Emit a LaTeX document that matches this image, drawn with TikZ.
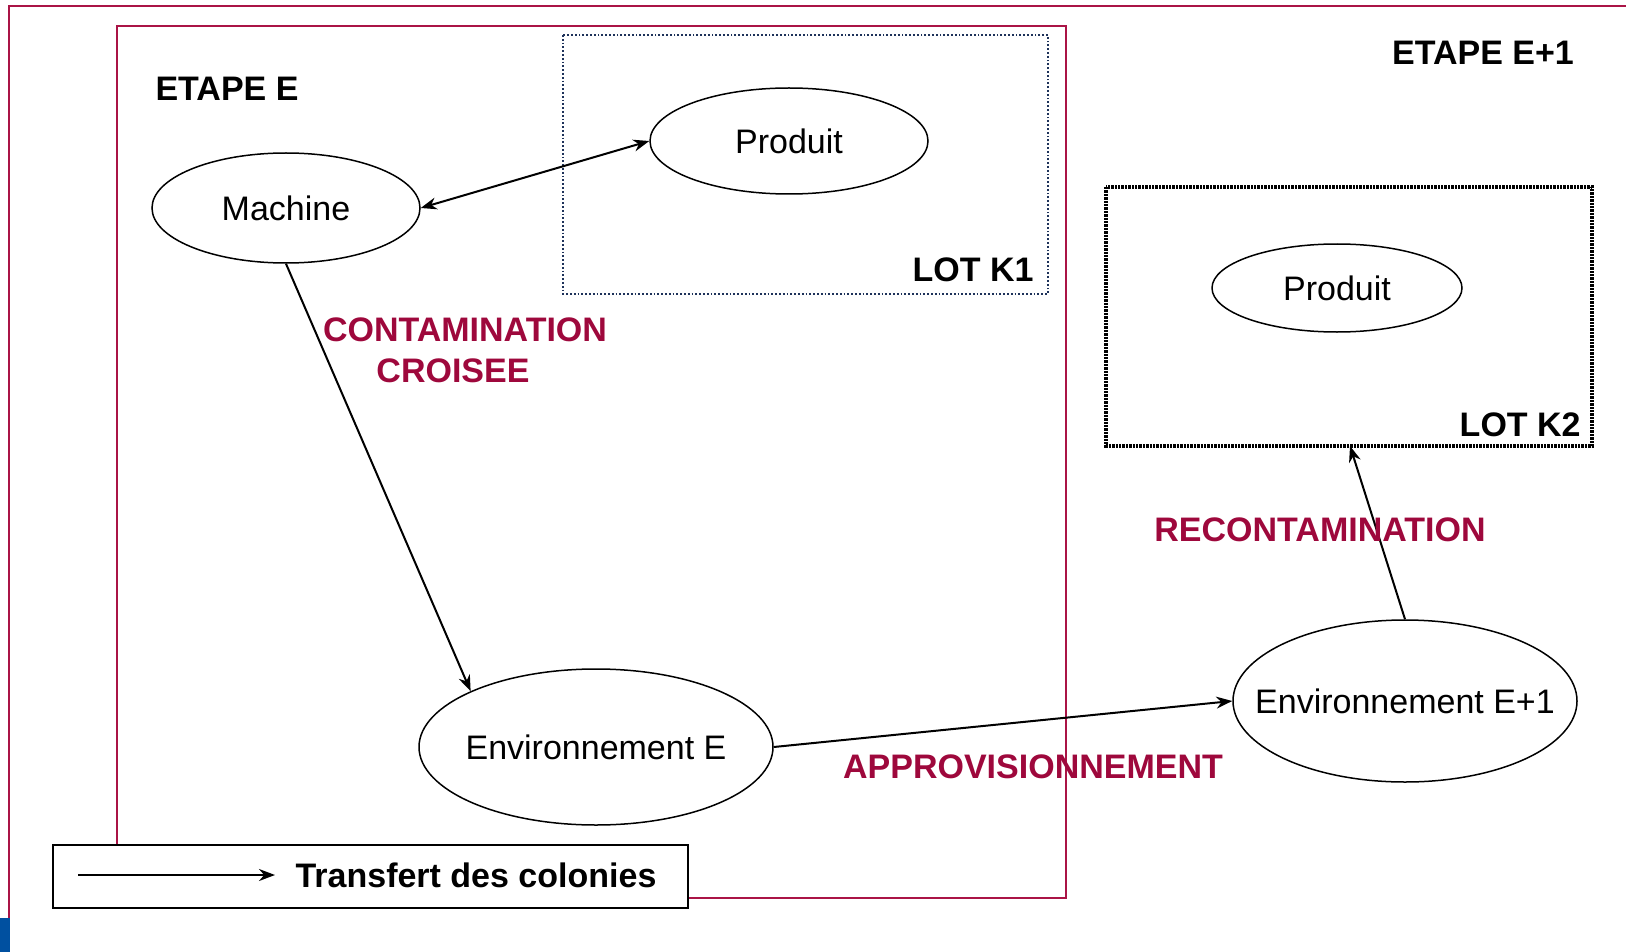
\documentclass[tikz,border=0pt]{standalone}
\usepackage{fontspec}
\setmainfont{Liberation Sans}
\usetikzlibrary{shapes.geometric,arrows.meta,calc}
\definecolor{framered}{RGB}{170,20,70}
\definecolor{labelred}{RGB}{158,8,60}
\definecolor{lotblue}{RGB}{30,50,90}
\definecolor{cornerblue}{RGB}{0,80,160}
\newcommand{\zbox}[1]{\makebox[0pt]{#1}}
\tikzset{
  txt/.style={font=\fontsize{17}{20}\selectfont, inner sep=0pt},
  btxt/.style={font=\fontsize{17}{20}\selectfont\bfseries, inner sep=0pt},
  rtxt/.style={btxt, text=labelred},
  oval/.style={draw, ellipse, line width=0.75pt, inner sep=0pt, txt},
  conn/.style={line width=1pt, -{Stealth[length=8pt,width=6pt]}},
  frame/.style={draw=framered, line width=1pt},
}
\begin{document}
\begin{tikzpicture}[x=0.5pt,y=-0.5pt]
\useasboundingbox (0,0) rectangle (1626,952);
% outer frame
\draw[frame] (9,952) -- (9,6) -- (1626,6);
\fill[cornerblue] (0,918) rectangle (10,952);
% inner frame
\draw[frame] (117,26) rectangle (1066,898);
% lots
\draw[lotblue, line width=0.9pt, densely dotted] (563,35) rectangle (1048,294);
\draw[black, line width=1.8pt, dash pattern=on 1.2pt off 0.5pt] (1106,187) rectangle (1592,446);
\node[btxt, anchor=east] (k1lab) at (1034,270) {LOT K1};
\node[btxt, anchor=east] (k2lab) at (1581,425) {LOT K2};
\coordinate (k2end) at (1350,446);
% titles
\node[btxt] (etE) at (227,89) {ETAPE E};
\node[btxt] (etE1) at (1483,53) {ETAPE E+1};
% ellipses
\node[oval, minimum width=134pt, minimum height=55pt] (mach) at (286,208) {\zbox{Machine}};
\node[oval, minimum width=139pt, minimum height=53pt] (prod1) at (789,141) {\zbox{Produit}};
\node[oval, minimum width=125pt, minimum height=44pt] (prod2) at (1337,288) {\zbox{Produit}};
\node[oval, minimum width=177pt, minimum height=78pt] (envE) at (596,747) {\zbox{Environnement E}};
\node[oval, minimum width=172pt, minimum height=81pt] (envE1) at (1405,701) {\zbox{Environnement E+1}};
% connectors
\draw[line width=1pt, {Stealth[length=8pt,width=6pt]}-{Stealth[length=8pt,width=6pt]}] (mach.east) -- (prod1.west);
\draw[conn] (mach.south) -- (envE.156);
\draw[conn] (envE.east) -- (envE1.west);
\draw[conn] (envE1.north) -- (k2end);
% labels
\node[rtxt] (cont) at (465,330) {CONTAMINATION};
\node[rtxt] (crois) at (453,371) {CROISEE};
\node[rtxt] (recont) at (1320,530) {RECONTAMINATION};
\node[rtxt] (appro) at (1033,767) {APPROVISIONNEMENT};
% legend
\draw[fill=white, line width=1pt] (53,845) rectangle (688,908);
\coordinate (lga) at (78,875);
\coordinate (lgb) at (275,875);
\draw[conn] (lga) -- (lgb);
\node[btxt] (lgtxt) at (476,875) {Transfert des colonies};
\end{tikzpicture}
\end{document}
